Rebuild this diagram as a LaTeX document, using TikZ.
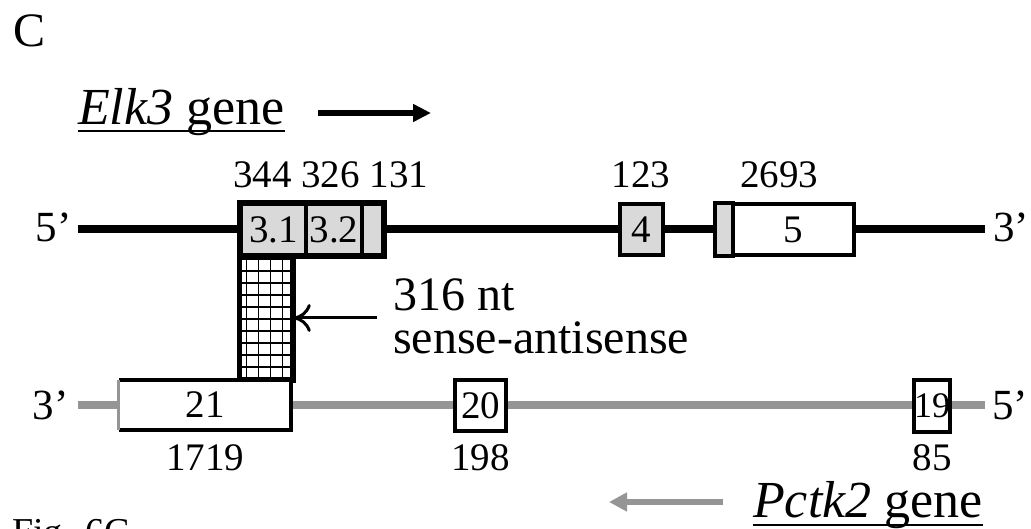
\documentclass[tikz,border=0pt]{standalone}
\usepackage{fontspec}
\setmainfont{Liberation Serif}
\usetikzlibrary{arrows.meta}
\definecolor{exongrey}{HTML}{D9D9D9}
\definecolor{strandgrey}{HTML}{959595}

\begin{document}
\begin{tikzpicture}[x=1pt,y=-1pt,
  num/.style={font=\fontsize{39}{44}\selectfont, inner sep=0pt},
  lab/.style={font=\fontsize{48}{43}\selectfont, inner sep=0pt, align=left},
  endlab/.style={font=\fontsize{43}{48}\selectfont, inner sep=0pt},
  head/.style={font=\fontsize{52}{57}\selectfont, inner sep=0pt},
  exon/.style={draw=black, line width=3.5pt, fill=exongrey, inner sep=0pt,
    font=\fontsize{39}{44}\selectfont},
  pexon/.style={draw=black, line width=4pt, fill=white, inner sep=0pt,
    font=\fontsize{39}{44}\selectfont},
  elkstrand/.style={line width=8pt, black},
  pctstrand/.style={line width=8.5pt, strandgrey},
]
\useasboundingbox (0,0) rectangle (1031,529);
\clip (0,0) rectangle (1031,529);

% panel letter
\node[font=\fontsize{48}{52}\selectfont, inner sep=0pt, anchor=base west] (panel) at (13,47) {C};

% Elk3 heading with direction arrow
\node[head, anchor=base west] (elkhead) at (78,125) {\textit{Elk3}\/ gene};
\draw[line width=2.2pt] ([yshift=-6pt]elkhead.base west) -- ([yshift=-6pt]elkhead.base east);
\coordinate (elkarrS) at (318,113);
\coordinate (elkarrE) at (431,113);
\draw[line width=6pt, -{Triangle[length=18pt,width=17pt]}] (elkarrS) -- (elkarrE);

% strands
\node[endlab, anchor=base east] (elk5) at (72,242) {5’};
\node[endlab, anchor=base west] (elk3) at (993,242) {3’};
\coordinate (elkL) at (78,229);
\coordinate (elkR) at (985,229);
\draw[elkstrand] (elkL) -- (elkR);

\node[endlab, anchor=base east] (pct3) at (69,419) {3’};
\node[endlab, anchor=base west] (pct5) at (992,419) {5’};
\coordinate (pctL) at (78,405);
\coordinate (pctR) at (985,405);
\draw[pctstrand] (pctL) -- (pctR);

% sense-antisense overlap (cross-hatched)
\node[draw=black, line width=3.5pt, fill=white, inner sep=0pt,
  minimum width=52pt, minimum height=124pt] (overlap) at (266,317) {};
\begin{scope}
  \clip (240,255) rectangle (292,379);
  \foreach \gx in {246.5,258.5,270.5,282.5}
    \draw[line width=1.4pt] (\gx,250) -- (\gx,385);
  \foreach \gy in {259,271,283,295,307,319,331,343,355,367}
    \draw[line width=1.4pt] (235,\gy) -- (297,\gy);
\end{scope}
\draw[line width=3.5pt] (overlap.north west) rectangle (overlap.south east);

% Elk3 exons
\node[exon, minimum width=65pt, minimum height=51pt] (e31) at (273.5,229.5) {3.1};
\node[exon, minimum width=56pt, minimum height=51pt] (e32) at (334,229.5) {3.2};
\node[exon, minimum width=21pt, minimum height=51pt] (e3c) at (372.5,229.5) {};
\draw[line width=4pt] (e31.north west) rectangle (e3c.south east);
\node[exon, minimum width=43pt, minimum height=51pt] (e4) at (641.5,229.5) {4};
\node[exon, minimum width=18pt, minimum height=53pt] (e5a) at (724,229.5) {};
\node[exon, fill=white, minimum width=121pt, minimum height=51pt] (e5) at (793.5,229.5) {5};

% Elk3 exon sizes
\node[num, anchor=base west] (s3) at (233,188) {344 326 131};
\node[num, anchor=base] (s4) at (641,188) {123};
\node[num, anchor=base] (s5) at (779,188) {2693};

% Pctk2 exons
\node[fill=white, inner sep=0pt, minimum width=172pt, minimum height=50pt,
  font=\fontsize{39}{44}\selectfont] (p21) at (205,405) {21};
\draw[line width=4pt] (p21.north west) -- (p21.north east) -- (p21.south east) -- (p21.south west);
\draw[line width=3pt, strandgrey] (p21.south west) -- (p21.north west);
\node[pexon, minimum width=51pt, minimum height=51pt] (p20) at (480.5,405.5) {20};
\node[pexon, minimum width=34pt, minimum height=52pt, font=\fontsize{36}{40}\selectfont] (p19) at (932,406) {19};

% Pctk2 exon sizes
\node[num, anchor=base] (s21) at (205,470) {1719};
\node[num, anchor=base] (s20) at (480.5,470) {198};
\node[num, anchor=base] (s19) at (932,470) {85};

% overlap label (anchored at the baseline of its last line)
\node[lab, anchor=base west] (ovlab) at (393,353) {316 nt\\sense-antisense};
\coordinate (ovarrS) at (377,318);
\draw[line width=3pt, -{Computer Modern Rightarrow[length=17pt,width=28pt]}] (ovarrS) -- (overlap.east |- ovarrS);

% Pctk2 heading with direction arrow
\node[head, anchor=base west] (pcthead) at (753,517) {\textit{Pctk2}\/ gene};
\draw[line width=2.2pt] ([yshift=-8pt]pcthead.base west) -- ([yshift=-8pt]pcthead.base east);
\coordinate (pctarrS) at (723,502);
\coordinate (pctarrE) at (609,502);
\draw[line width=6pt, strandgrey, -{Triangle[length=18pt,width=18pt]}] (pctarrS) -- (pctarrE);

% figure caption
\node[font=\fontsize{38}{42}\selectfont, inner sep=0pt, anchor=base west] (caption) at (12,544) {Fig. 6C};
\end{tikzpicture}
\end{document}
